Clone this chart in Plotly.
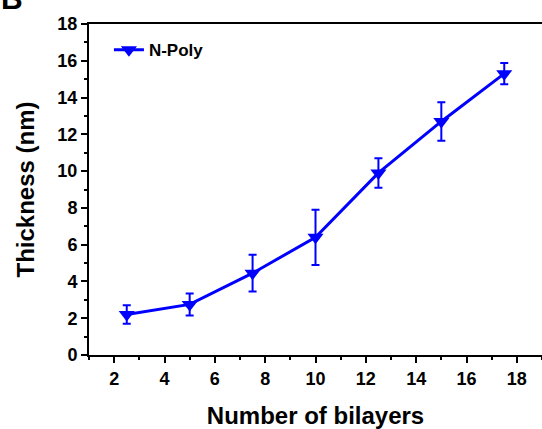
import plotly.graph_objects as go

bilayers = [2.5, 5, 7.5, 10, 12.5, 15, 17.5]
thickness = [2.2, 2.75, 4.45, 6.4, 9.9, 12.7, 15.3]
errors = [0.5, 0.6, 1.0, 1.5, 0.8, 1.05, 0.58]
x_ticks = [2, 4, 6, 8, 10, 12, 14, 16, 18]
y_ticks = [0, 2, 4, 6, 8, 10, 12, 14, 16, 18]

BLUE = "#0000ff"
FONT = "Liberation Sans, Arial, sans-serif"

fig = go.Figure()
fig.add_trace(go.Scatter(
    x=bilayers, y=thickness, mode="lines+markers", name="<b>N-Poly</b>",
    line=dict(color=BLUE, width=3),
    marker=dict(symbol="triangle-down", size=14, color=BLUE),
    error_y=dict(type="data", array=errors, visible=True, color=BLUE, thickness=2, width=4),
))

axis_common = dict(
    showgrid=False, zeroline=False, showline=True, linecolor="black", linewidth=2,
    ticks="outside", ticklen=6, tickwidth=2, tickcolor="black",
    tickfont=dict(family=FONT, size=18, color="black", weight="bold"),
)

fig.update_layout(
    width=542, height=429,
    margin=dict(l=89, r=0, t=24, b=74),
    paper_bgcolor="white", plot_bgcolor="white",
    font=dict(family=FONT, color="black"),
    showlegend=True,
    legend=dict(x=0.044, y=0.975, xanchor="left", yanchor="top", bgcolor="rgba(0,0,0,0)",
                font=dict(family=FONT, size=17, color="black")),
    xaxis=dict(range=[1, 19], tickvals=x_ticks, mirror=True,
               minor=dict(ticks="outside", ticklen=3, tickwidth=2, tickcolor="black", dtick=1),
               title=dict(text="<b>Number of bilayers</b>", font=dict(family=FONT, size=24, color="black"), standoff=22),
               **axis_common),
    yaxis=dict(range=[0, 18], tickvals=y_ticks,
               minor=dict(ticks="outside", ticklen=3, tickwidth=2, tickcolor="black", dtick=1),
               title=dict(text="<b>Thickness (nm)</b>", font=dict(family=FONT, size=24, color="black"), standoff=16),
               **axis_common),
)

fig.add_annotation(text="<b>B</b>", xref="paper", yref="paper", x=-0.142, y=1.022,
                   xanchor="right", yanchor="bottom", showarrow=False,
                   font=dict(family=FONT, size=30, color="black"))

fig.write_html("out.html", post_script="document.body.style.margin='0';",
               config={"displayModeBar": False})
